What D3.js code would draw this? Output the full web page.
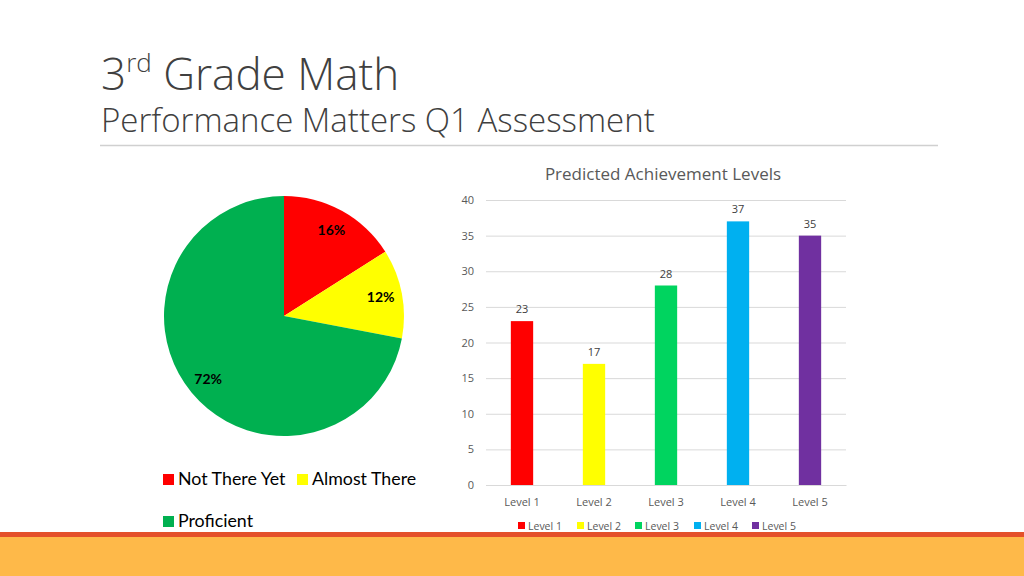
<!DOCTYPE html>
<html>
<head>
<meta charset="utf-8">
<script src="https://cdnjs.cloudflare.com/ajax/libs/d3/7.8.5/d3.min.js"></script>
<style>
  body { margin: 0; background: #fff; }
  svg { display: block; font-family: "Open Sans", sans-serif; }
</style>
</head>
<body>
<div class="chart"></div>
<script>
// pie data
var pieLabels = ["Not There Yet", "Almost There", "Proficient"];
var pieValues = [16, 12, 72];
var pieColors = ["#FF0000", "#FFFF00", "#00B050"];

// bar data
var levels = ["Level 1", "Level 2", "Level 3", "Level 4", "Level 5"];
var levelCounts = [23, 17, 28, 37, 35];
var levelColors = ["#FF0000", "#FFFF00", "#00D45F", "#00B0F0", "#7030A0"];
var yTicks = [0, 5, 10, 15, 20, 25, 30, 35, 40];

var svgWidth = 1024;
var svgHeight = 576;

var svg = d3.select(".chart")
  .append("svg")
  .attr("width", svgWidth)
  .attr("height", svgHeight);

// slide titles
var title = svg.append("text")
  .attr("x", 101)
  .attr("y", 90)
  .attr("fill", "#404040")
  .style("font-size", "44px")
  .style("font-weight", "300");
title.append("tspan").text("3");
title.append("tspan")
  .attr("dy", "-18")
  .style("font-size", "26px")
  .text("rd");
title.append("tspan")
  .attr("dy", "18")
  .text(" Grade Math");

svg.append("text")
  .attr("x", 101)
  .attr("y", 132)
  .attr("fill", "#404040")
  .style("font-size", "33px")
  .style("font-weight", "300")
  .text("Performance Matters Q1 Assessment");

svg.append("line")
  .attr("x1", 100).attr("x2", 938)
  .attr("y1", 145.5).attr("y2", 145.5)
  .attr("stroke", "#d0d0d0")
  .attr("stroke-width", 1.5);

// bottom band
svg.append("rect")
  .attr("x", 0).attr("y", 537)
  .attr("width", svgWidth).attr("height", 39)
  .attr("fill", "#FEB949");
svg.append("rect")
  .attr("x", 0).attr("y", 532)
  .attr("width", svgWidth).attr("height", 5)
  .attr("fill", "#E4502A");

// Pie chart
var radius = 120;
var pieGroup = svg.append("g")
  .attr("transform", "translate(284, 316)");

var pie = d3.pie().sort(null).value(d => d);
var arc = d3.arc().innerRadius(0).outerRadius(radius);
var labelArc = d3.arc().innerRadius(radius * 0.82).outerRadius(radius * 0.82);

var arcs = pie(pieValues);

pieGroup.selectAll("path")
  .data(arcs)
  .enter()
  .append("path")
  .attr("d", arc)
  .attr("fill", (d, i) => pieColors[i]);

pieGroup.selectAll(".pieLabel")
  .data(arcs)
  .enter()
  .append("text")
  .attr("class", "pieLabel")
  .attr("transform", d => `translate(${labelArc.centroid(d)})`)
  .attr("text-anchor", "middle")
  .attr("dy", "0.35em")
  .style("font-size", "14px")
  .style("font-weight", "bold")
  .style("font-family", "Lato, sans-serif")
  .attr("fill", "#000")
  .text(d => d.value + "%");

// pie legend
var legendPos = [[163, 474], [297, 474], [163, 516]];
var pieLegend = svg.selectAll(".pieLegend")
  .data(pieLabels)
  .enter()
  .append("g")
  .attr("class", "pieLegend")
  .attr("transform", (d, i) => `translate(${legendPos[i][0]}, ${legendPos[i][1]})`);
pieLegend.append("rect")
  .attr("width", 11).attr("height", 11)
  .attr("fill", (d, i) => pieColors[i]);
pieLegend.append("text")
  .attr("x", 15)
  .attr("y", 11)
  .style("font-size", "17.8px")
  .style("font-family", "Lato, sans-serif")
  .attr("fill", "#000")
  .text(d => d);

// Bar chart
var margin = { top: 200, left: 486 };
var width = 360;
var height = 285;

var chartGroup = svg.append("g")
  .attr("transform", `translate(${margin.left}, ${margin.top})`);

svg.append("text")
  .attr("x", 663)
  .attr("y", 180)
  .attr("text-anchor", "middle")
  .attr("fill", "#595959")
  .style("font-size", "17px")
  .text("Predicted Achievement Levels");

var xBandScale = d3.scaleBand()
  .domain(levels)
  .range([0, width])
  .paddingInner(0.69)
  .paddingOuter(0.345);

var yLinearScale = d3.scaleLinear()
  .domain([0, 40])
  .range([height, 0]);

var leftAxis = d3.axisLeft(yLinearScale)
  .tickValues(yTicks)
  .tickSize(-width)
  .tickPadding(12);

var yAxisG = chartGroup.append("g").call(leftAxis);
yAxisG.select(".domain").remove();
yAxisG.selectAll("line").attr("stroke", "#d9d9d9");
yAxisG.selectAll("text")
  .attr("fill", "#595959")
  .style("font-size", "11px")
  .style("font-family", "Open Sans, sans-serif");

var bottomAxis = d3.axisBottom(xBandScale).tickSize(0).tickPadding(13);
var xAxisG = chartGroup.append("g")
  .attr("transform", `translate(0, ${height})`)
  .call(bottomAxis);
xAxisG.select(".domain").attr("stroke", "#d9d9d9");
xAxisG.selectAll("text")
  .attr("fill", "#595959")
  .style("font-size", "11px")
  .style("font-family", "Open Sans, sans-serif");

chartGroup.selectAll(".bar")
  .data(levelCounts)
  .enter()
  .append("rect")
  .attr("class", "bar")
  .attr("x", (d, i) => xBandScale(levels[i]))
  .attr("y", d => yLinearScale(d))
  .attr("width", xBandScale.bandwidth())
  .attr("height", d => height - yLinearScale(d))
  .attr("fill", (d, i) => levelColors[i]);

chartGroup.selectAll(".barLabel")
  .data(levelCounts)
  .enter()
  .append("text")
  .attr("class", "barLabel")
  .attr("x", (d, i) => xBandScale(levels[i]) + xBandScale.bandwidth() / 2)
  .attr("y", d => yLinearScale(d) - 8)
  .attr("text-anchor", "middle")
  .attr("fill", "#404040")
  .style("font-size", "11px")
  .text(d => d);

// bar legend
var legendX = [518, 577, 635, 694, 752];
var barLegend = svg.selectAll(".barLegend")
  .data(levels)
  .enter()
  .append("g")
  .attr("class", "barLegend")
  .attr("transform", (d, i) => `translate(${legendX[i]}, 522)`);
barLegend.append("rect")
  .attr("width", 7).attr("height", 7)
  .attr("fill", (d, i) => levelColors[i]);
barLegend.append("text")
  .attr("x", 10)
  .attr("y", 7.5)
  .attr("fill", "#595959")
  .style("font-size", "10.5px")
  .text(d => d);
</script>
</body>
</html>
